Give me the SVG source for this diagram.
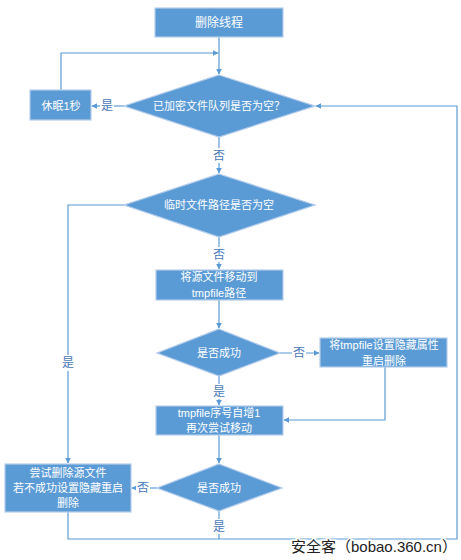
<svg xmlns="http://www.w3.org/2000/svg" width="461" height="560" viewBox="0 0 461 560">
<defs>
<style>
.n{fill:#5B9BD5;stroke:#B4CDEB;stroke-width:1.2}
.t{font-family:"Liberation Sans","Noto Sans CJK SC",sans-serif;font-size:11px;fill:#FFFFFF;text-anchor:middle}
.l{font-family:"Liberation Sans","Noto Sans CJK SC",sans-serif;font-size:12px;fill:#4A78B8;text-anchor:middle}
.c{fill:none;stroke:#5B9BD5;stroke-width:1.2}
.lb{fill:#FFFFFF}
</style>
<marker id="a" viewBox="0 0 10 10" refX="9" refY="5" markerWidth="6" markerHeight="6" orient="auto" markerUnits="userSpaceOnUse">
<path d="M0,0 L10,5 L0,10 z" fill="#5B9BD5"/>
</marker>
</defs>
<rect width="461" height="560" fill="#FFFFFF"/>
<g id="connectors">
<path class="c" d="M219,37 V74" marker-end="url(#a)"/>
<path class="c" d="M61,90 V53 H218" marker-end="url(#a)"/>
<path class="c" d="M124,106 H92" marker-end="url(#a)"/>
<path class="c" d="M219,136 V173" marker-end="url(#a)"/>
<path class="c" d="M219,237 V269" marker-end="url(#a)"/>
<path class="c" d="M124,205 H68 V463" marker-end="url(#a)"/>
<path class="c" d="M219,300 V328" marker-end="url(#a)"/>
<path class="c" d="M280,353 H319" marker-end="url(#a)"/>
<path class="c" d="M385,367 V420 H284" marker-end="url(#a)"/>
<path class="c" d="M219,376 V405" marker-end="url(#a)"/>
<path class="c" d="M219,435 V463" marker-end="url(#a)"/>
<path class="c" d="M157,488 H132" marker-end="url(#a)"/>
<path class="c" d="M219,511 V539"/>
<path class="c" d="M68,512 V539 H457 V106 H316" marker-end="url(#a)"/>
<rect class="lb" x="100" y="98" width="14" height="16"/>
<text class="l" x="107" y="110">是</text>
<rect class="lb" x="212" y="148" width="14" height="15"/>
<text class="l" x="219" y="160">否</text>
<rect class="lb" x="212" y="247" width="14" height="15"/>
<text class="l" x="219" y="259">否</text>
<rect class="lb" x="61" y="355" width="14" height="16"/>
<text class="l" x="68" y="367">是</text>
<rect class="lb" x="292" y="345" width="14" height="16"/>
<text class="l" x="299" y="357">否</text>
<rect class="lb" x="212" y="384" width="14" height="15"/>
<text class="l" x="219" y="396">是</text>
<rect class="lb" x="136" y="480" width="14" height="16"/>
<text class="l" x="143" y="492">否</text>
<rect class="lb" x="212" y="519" width="14" height="15"/>
<text class="l" x="219" y="531">是</text>
</g>
<g id="start">
<rect class="n" x="155" y="8" width="128" height="29"/>
<text class="t" x="219" y="27" style="font-size:12px">删除线程</text>
</g>
<g id="queueEmpty">
<polygon class="n" points="219,75 315,106 219,137 124,106"/>
<text class="t" x="219" y="110">已加密文件队列是否为空？</text>
</g>
<g id="sleep">
<rect class="n" x="30" y="90" width="61" height="30"/>
<text class="t" x="61" y="110">休眠1秒</text>
</g>
<g id="tmpEmpty">
<polygon class="n" points="219,174 315,205 219,237 124,205"/>
<text class="t" x="219" y="209">临时文件路径是否为空</text>
</g>
<g id="moveFile">
<rect class="n" x="156" y="270" width="127" height="30"/>
<text class="t" x="219" y="281">将源文件移动到</text>
<text class="t" x="219" y="297">tmpfile路径</text>
</g>
<g id="success1">
<polygon class="n" points="219,329 280,353 219,376 157,353"/>
<text class="t" x="219" y="357">是否成功</text>
</g>
<g id="hideTmp">
<rect class="n" x="320" y="338" width="127" height="29"/>
<text class="t" x="384" y="349">将tmpfile设置隐藏属性</text>
<text class="t" x="384" y="365">重启删除</text>
</g>
<g id="increment">
<rect class="n" x="156" y="406" width="127" height="29"/>
<text class="t" x="219" y="417">tmpfile序号自增1</text>
<text class="t" x="219" y="432">再次尝试移动</text>
</g>
<g id="success2">
<polygon class="n" points="219,464 282,488 219,511 157,488"/>
<text class="t" x="219" y="492">是否成功</text>
</g>
<g id="deleteSrc">
<rect class="n" x="5" y="464" width="126" height="48"/>
<text class="t" x="68" y="477">尝试删除源文件</text>
<text class="t" x="68" y="492">若不成功设置隐藏重启</text>
<text class="t" x="68" y="507">删除</text>
</g>
<text x="291" y="552" style="font-family:'Liberation Sans','Noto Sans CJK SC',sans-serif;font-size:15px;fill:#222222;stroke:#FFFFFF;stroke-width:3;paint-order:stroke">安全客（bobao.360.cn）</text>
</svg>
